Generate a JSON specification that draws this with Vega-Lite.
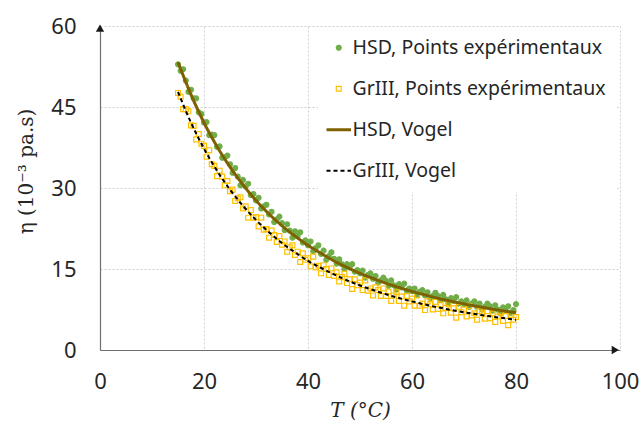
{
  "$schema": "https://vega.github.io/schema/vega-lite/v6.json",
  "width": 520,
  "height": 324,
  "autosize": {"type": "none"},
  "padding": {"left": 100, "top": 26, "right": 22, "bottom": 71},
  "background": "white",
  "config": {
    "view": {"stroke": null},
    "font": "Noto Sans",
    "axis": {
      "grid": true, "gridDash": [2, 2], "gridColor": "#cfcfcf", "gridWidth": 1,
      "domainColor": "#6f6f6f", "domainWidth": 1.2,
      "ticks": false, "tickSize": 0, "labelFlush": false,
      "labelFont": "Noto Sans", "labelFontSize": 22, "labelColor": "#262626",
      "titleFont": "DejaVu Serif", "titleFontSize": 20, "titleFontWeight": "normal", "titleColor": "#262626"
    },
    "legend": {
      "orient": "none", "legendX": 218, "legendY": 1,
      "fillColor": "white", "padding": 11, "rowPadding": 20,
      "labelFont": "Noto Sans", "labelFontSize": 19.5, "labelColor": "#262626",
      "labelOffset": 4, "symbolSize": 24, "labelLimit": 400
    }
  },
  "datasets": {
    "pts": [
      {"s":"HSD, Points expérimentaux","T":15.0,"v":52.9},{"s":"HSD, Points expérimentaux","T":15.5,"v":51.7},{"s":"HSD, Points expérimentaux","T":16.0,"v":52.0},{"s":"HSD, Points expérimentaux","T":16.5,"v":49.9},{"s":"HSD, Points expérimentaux","T":17.0,"v":47.8},{"s":"HSD, Points expérimentaux","T":17.5,"v":48.2},{"s":"HSD, Points expérimentaux","T":18.0,"v":46.6},{"s":"HSD, Points expérimentaux","T":18.5,"v":46.6},{"s":"HSD, Points expérimentaux","T":19.0,"v":44.0},{"s":"HSD, Points expérimentaux","T":19.5,"v":43.7},
      {"s":"HSD, Points expérimentaux","T":20.0,"v":42.1},{"s":"HSD, Points expérimentaux","T":20.5,"v":42.2},{"s":"HSD, Points expérimentaux","T":21.0,"v":39.8},{"s":"HSD, Points expérimentaux","T":21.5,"v":39.9},{"s":"HSD, Points expérimentaux","T":22.0,"v":39.8},{"s":"HSD, Points expérimentaux","T":22.5,"v":37.6},{"s":"HSD, Points expérimentaux","T":23.0,"v":37.7},{"s":"HSD, Points expérimentaux","T":23.5,"v":35.6},{"s":"HSD, Points expérimentaux","T":24.0,"v":35.7},{"s":"HSD, Points expérimentaux","T":24.5,"v":36.0},
      {"s":"HSD, Points expérimentaux","T":25.0,"v":34.4},{"s":"HSD, Points expérimentaux","T":25.5,"v":32.8},{"s":"HSD, Points expérimentaux","T":26.0,"v":33.7},{"s":"HSD, Points expérimentaux","T":26.5,"v":32.1},{"s":"HSD, Points expérimentaux","T":27.0,"v":30.5},{"s":"HSD, Points expérimentaux","T":27.5,"v":31.5},{"s":"HSD, Points expérimentaux","T":28.0,"v":30.3},{"s":"HSD, Points expérimentaux","T":28.5,"v":30.8},{"s":"HSD, Points expérimentaux","T":29.0,"v":28.7},{"s":"HSD, Points expérimentaux","T":29.5,"v":28.9},
      {"s":"HSD, Points expérimentaux","T":30.0,"v":27.7},{"s":"HSD, Points expérimentaux","T":30.5,"v":28.2},{"s":"HSD, Points expérimentaux","T":31.0,"v":26.2},{"s":"HSD, Points expérimentaux","T":31.5,"v":26.6},{"s":"HSD, Points expérimentaux","T":32.0,"v":26.9},{"s":"HSD, Points expérimentaux","T":32.5,"v":25.1},{"s":"HSD, Points expérimentaux","T":33.0,"v":25.6},{"s":"HSD, Points expérimentaux","T":33.5,"v":23.7},{"s":"HSD, Points expérimentaux","T":34.0,"v":24.2},{"s":"HSD, Points expérimentaux","T":34.5,"v":24.7},
      {"s":"HSD, Points expérimentaux","T":35.0,"v":23.5},{"s":"HSD, Points expérimentaux","T":35.5,"v":22.2},{"s":"HSD, Points expérimentaux","T":36.0,"v":23.3},{"s":"HSD, Points expérimentaux","T":36.5,"v":22.1},{"s":"HSD, Points expérimentaux","T":37.0,"v":20.8},{"s":"HSD, Points expérimentaux","T":37.5,"v":22.0},{"s":"HSD, Points expérimentaux","T":38.0,"v":21.1},{"s":"HSD, Points expérimentaux","T":38.5,"v":21.8},{"s":"HSD, Points expérimentaux","T":39.0,"v":19.9},{"s":"HSD, Points expérimentaux","T":39.5,"v":20.3},
      {"s":"HSD, Points expérimentaux","T":40.0,"v":19.4},{"s":"HSD, Points expérimentaux","T":40.5,"v":20.1},{"s":"HSD, Points expérimentaux","T":41.0,"v":18.3},{"s":"HSD, Points expérimentaux","T":41.5,"v":18.9},{"s":"HSD, Points expérimentaux","T":42.0,"v":19.4},{"s":"HSD, Points expérimentaux","T":42.5,"v":17.8},{"s":"HSD, Points expérimentaux","T":43.0,"v":18.4},{"s":"HSD, Points expérimentaux","T":43.5,"v":16.7},{"s":"HSD, Points expérimentaux","T":44.0,"v":17.4},{"s":"HSD, Points expérimentaux","T":44.5,"v":18.1},
      {"s":"HSD, Points expérimentaux","T":45.0,"v":16.9},{"s":"HSD, Points expérimentaux","T":45.5,"v":16.0},{"s":"HSD, Points expérimentaux","T":46.0,"v":16.8},{"s":"HSD, Points expérimentaux","T":46.5,"v":15.9},{"s":"HSD, Points expérimentaux","T":47.0,"v":15.0},{"s":"HSD, Points expérimentaux","T":47.5,"v":15.9},{"s":"HSD, Points expérimentaux","T":48.0,"v":15.3},{"s":"HSD, Points expérimentaux","T":48.5,"v":15.9},{"s":"HSD, Points expérimentaux","T":49.0,"v":14.5},{"s":"HSD, Points expérimentaux","T":49.5,"v":14.8},
      {"s":"HSD, Points expérimentaux","T":50.0,"v":14.2},{"s":"HSD, Points expérimentaux","T":50.5,"v":14.7},{"s":"HSD, Points expérimentaux","T":51.0,"v":13.4},{"s":"HSD, Points expérimentaux","T":51.5,"v":13.9},{"s":"HSD, Points expérimentaux","T":52.0,"v":14.2},{"s":"HSD, Points expérimentaux","T":52.5,"v":13.2},{"s":"HSD, Points expérimentaux","T":53.0,"v":13.7},{"s":"HSD, Points expérimentaux","T":53.5,"v":12.5},{"s":"HSD, Points expérimentaux","T":54.0,"v":12.9},{"s":"HSD, Points expérimentaux","T":54.5,"v":13.4},
      {"s":"HSD, Points expérimentaux","T":55.0,"v":12.8},{"s":"HSD, Points expérimentaux","T":55.5,"v":11.9},{"s":"HSD, Points expérimentaux","T":56.0,"v":12.9},{"s":"HSD, Points expérimentaux","T":56.5,"v":12.0},{"s":"HSD, Points expérimentaux","T":57.0,"v":11.2},{"s":"HSD, Points expérimentaux","T":57.5,"v":12.2},{"s":"HSD, Points expérimentaux","T":58.0,"v":11.6},{"s":"HSD, Points expérimentaux","T":58.5,"v":12.3},{"s":"HSD, Points expérimentaux","T":59.0,"v":11.0},{"s":"HSD, Points expérimentaux","T":59.5,"v":11.4},
      {"s":"HSD, Points expérimentaux","T":60.0,"v":10.9},{"s":"HSD, Points expérimentaux","T":60.5,"v":11.4},{"s":"HSD, Points expérimentaux","T":61.0,"v":10.2},{"s":"HSD, Points expérimentaux","T":61.5,"v":10.8},{"s":"HSD, Points expérimentaux","T":62.0,"v":11.1},{"s":"HSD, Points expérimentaux","T":62.5,"v":10.1},{"s":"HSD, Points expérimentaux","T":63.0,"v":10.7},{"s":"HSD, Points expérimentaux","T":63.5,"v":9.6},{"s":"HSD, Points expérimentaux","T":64.0,"v":10.0},{"s":"HSD, Points expérimentaux","T":64.5,"v":10.6},
      {"s":"HSD, Points expérimentaux","T":65.0,"v":10.0},{"s":"HSD, Points expérimentaux","T":65.5,"v":9.2},{"s":"HSD, Points expérimentaux","T":66.0,"v":10.2},{"s":"HSD, Points expérimentaux","T":66.5,"v":9.4},{"s":"HSD, Points expérimentaux","T":67.0,"v":8.7},{"s":"HSD, Points expérimentaux","T":67.5,"v":9.6},{"s":"HSD, Points expérimentaux","T":68.0,"v":9.1},{"s":"HSD, Points expérimentaux","T":68.5,"v":9.8},{"s":"HSD, Points expérimentaux","T":69.0,"v":8.6},{"s":"HSD, Points expérimentaux","T":69.5,"v":9.0},
      {"s":"HSD, Points expérimentaux","T":70.0,"v":8.5},{"s":"HSD, Points expérimentaux","T":70.5,"v":9.2},{"s":"HSD, Points expérimentaux","T":71.0,"v":8.0},{"s":"HSD, Points expérimentaux","T":71.5,"v":8.6},{"s":"HSD, Points expérimentaux","T":72.0,"v":9.0},{"s":"HSD, Points expérimentaux","T":72.5,"v":8.0},{"s":"HSD, Points expérimentaux","T":73.0,"v":8.6},{"s":"HSD, Points expérimentaux","T":73.5,"v":7.5},{"s":"HSD, Points expérimentaux","T":74.0,"v":8.0},{"s":"HSD, Points expérimentaux","T":74.5,"v":8.6},
      {"s":"HSD, Points expérimentaux","T":75.0,"v":8.1},{"s":"HSD, Points expérimentaux","T":75.5,"v":7.3},{"s":"HSD, Points expérimentaux","T":76.0,"v":8.3},{"s":"HSD, Points expérimentaux","T":76.5,"v":7.5},{"s":"HSD, Points expérimentaux","T":77.0,"v":6.8},{"s":"HSD, Points expérimentaux","T":77.5,"v":7.9},{"s":"HSD, Points expérimentaux","T":78.0,"v":7.4},{"s":"HSD, Points expérimentaux","T":78.5,"v":8.1},{"s":"HSD, Points expérimentaux","T":79.0,"v":6.9},{"s":"HSD, Points expérimentaux","T":79.5,"v":7.4},
      {"s":"HSD, Points expérimentaux","T":80.0,"v":8.5},
      {"s":"GrIII, Points expérimentaux","T":15.0,"v":47.6},{"s":"GrIII, Points expérimentaux","T":15.5,"v":46.9},{"s":"GrIII, Points expérimentaux","T":16.0,"v":44.6},{"s":"GrIII, Points expérimentaux","T":16.5,"v":44.6},{"s":"GrIII, Points expérimentaux","T":17.0,"v":44.2},{"s":"GrIII, Points expérimentaux","T":17.5,"v":41.6},{"s":"GrIII, Points expérimentaux","T":18.0,"v":41.5},{"s":"GrIII, Points expérimentaux","T":18.5,"v":39.0},{"s":"GrIII, Points expérimentaux","T":19.0,"v":40.0},{"s":"GrIII, Points expérimentaux","T":19.5,"v":38.2},
      {"s":"GrIII, Points expérimentaux","T":20.0,"v":37.8},{"s":"GrIII, Points expérimentaux","T":20.5,"v":35.8},{"s":"GrIII, Points expérimentaux","T":21.0,"v":37.0},{"s":"GrIII, Points expérimentaux","T":21.5,"v":34.4},{"s":"GrIII, Points expérimentaux","T":22.0,"v":34.1},{"s":"GrIII, Points expérimentaux","T":22.5,"v":32.2},{"s":"GrIII, Points expérimentaux","T":23.0,"v":33.2},{"s":"GrIII, Points expérimentaux","T":23.5,"v":32.1},{"s":"GrIII, Points expérimentaux","T":24.0,"v":30.5},{"s":"GrIII, Points expérimentaux","T":24.5,"v":31.3},
      {"s":"GrIII, Points expérimentaux","T":25.0,"v":29.4},{"s":"GrIII, Points expérimentaux","T":25.5,"v":29.7},{"s":"GrIII, Points expérimentaux","T":26.0,"v":27.6},{"s":"GrIII, Points expérimentaux","T":26.5,"v":28.1},{"s":"GrIII, Points expérimentaux","T":27.0,"v":28.3},{"s":"GrIII, Points expérimentaux","T":27.5,"v":26.2},{"s":"GrIII, Points expérimentaux","T":28.0,"v":26.6},{"s":"GrIII, Points expérimentaux","T":28.5,"v":24.5},{"s":"GrIII, Points expérimentaux","T":29.0,"v":25.9},{"s":"GrIII, Points expérimentaux","T":29.5,"v":24.5},
      {"s":"GrIII, Points expérimentaux","T":30.0,"v":24.6},{"s":"GrIII, Points expérimentaux","T":30.5,"v":22.9},{"s":"GrIII, Points expérimentaux","T":31.0,"v":24.5},{"s":"GrIII, Points expérimentaux","T":31.5,"v":22.3},{"s":"GrIII, Points expérimentaux","T":32.0,"v":22.4},{"s":"GrIII, Points expérimentaux","T":32.5,"v":20.8},{"s":"GrIII, Points expérimentaux","T":33.0,"v":22.1},{"s":"GrIII, Points expérimentaux","T":33.5,"v":21.3},{"s":"GrIII, Points expérimentaux","T":34.0,"v":20.0},{"s":"GrIII, Points expérimentaux","T":34.5,"v":21.1},
      {"s":"GrIII, Points expérimentaux","T":35.0,"v":19.5},{"s":"GrIII, Points expérimentaux","T":35.5,"v":20.1},{"s":"GrIII, Points expérimentaux","T":36.0,"v":18.2},{"s":"GrIII, Points expérimentaux","T":36.5,"v":19.0},{"s":"GrIII, Points expérimentaux","T":37.0,"v":19.4},{"s":"GrIII, Points expérimentaux","T":37.5,"v":17.6},{"s":"GrIII, Points expérimentaux","T":38.0,"v":18.2},{"s":"GrIII, Points expérimentaux","T":38.5,"v":16.3},{"s":"GrIII, Points expérimentaux","T":39.0,"v":17.9},{"s":"GrIII, Points expérimentaux","T":39.5,"v":16.7},
      {"s":"GrIII, Points expérimentaux","T":40.0,"v":17.0},{"s":"GrIII, Points expérimentaux","T":40.5,"v":15.5},{"s":"GrIII, Points expérimentaux","T":41.0,"v":17.3},{"s":"GrIII, Points expérimentaux","T":41.5,"v":15.3},{"s":"GrIII, Points expérimentaux","T":42.0,"v":15.6},{"s":"GrIII, Points expérimentaux","T":42.5,"v":14.2},{"s":"GrIII, Points expérimentaux","T":43.0,"v":15.7},{"s":"GrIII, Points expérimentaux","T":43.5,"v":15.0},{"s":"GrIII, Points expérimentaux","T":44.0,"v":13.9},{"s":"GrIII, Points expérimentaux","T":44.5,"v":15.1},
      {"s":"GrIII, Points expérimentaux","T":45.0,"v":13.7},{"s":"GrIII, Points expérimentaux","T":45.5,"v":14.4},{"s":"GrIII, Points expérimentaux","T":46.0,"v":12.7},{"s":"GrIII, Points expérimentaux","T":46.5,"v":13.5},{"s":"GrIII, Points expérimentaux","T":47.0,"v":14.1},{"s":"GrIII, Points expérimentaux","T":47.5,"v":12.4},{"s":"GrIII, Points expérimentaux","T":48.0,"v":13.1},{"s":"GrIII, Points expérimentaux","T":48.5,"v":11.3},{"s":"GrIII, Points expérimentaux","T":49.0,"v":13.1},{"s":"GrIII, Points expérimentaux","T":49.5,"v":12.0},
      {"s":"GrIII, Points expérimentaux","T":50.0,"v":12.5},{"s":"GrIII, Points expérimentaux","T":50.5,"v":11.1},{"s":"GrIII, Points expérimentaux","T":51.0,"v":12.9},{"s":"GrIII, Points expérimentaux","T":51.5,"v":11.0},{"s":"GrIII, Points expérimentaux","T":52.0,"v":11.4},{"s":"GrIII, Points expérimentaux","T":52.5,"v":10.1},{"s":"GrIII, Points expérimentaux","T":53.0,"v":11.6},{"s":"GrIII, Points expérimentaux","T":53.5,"v":11.1},{"s":"GrIII, Points expérimentaux","T":54.0,"v":10.0},{"s":"GrIII, Points expérimentaux","T":54.5,"v":11.4},
      {"s":"GrIII, Points expérimentaux","T":55.0,"v":10.0},{"s":"GrIII, Points expérimentaux","T":55.5,"v":10.8},{"s":"GrIII, Points expérimentaux","T":56.0,"v":9.1},{"s":"GrIII, Points expérimentaux","T":56.5,"v":10.1},{"s":"GrIII, Points expérimentaux","T":57.0,"v":10.7},{"s":"GrIII, Points expérimentaux","T":57.5,"v":9.1},{"s":"GrIII, Points expérimentaux","T":58.0,"v":9.9},{"s":"GrIII, Points expérimentaux","T":58.5,"v":8.2},{"s":"GrIII, Points expérimentaux","T":59.0,"v":10.0},{"s":"GrIII, Points expérimentaux","T":59.5,"v":9.0},
      {"s":"GrIII, Points expérimentaux","T":60.0,"v":9.5},{"s":"GrIII, Points expérimentaux","T":60.5,"v":8.2},{"s":"GrIII, Points expérimentaux","T":61.0,"v":10.1},{"s":"GrIII, Points expérimentaux","T":61.5,"v":8.2},{"s":"GrIII, Points expérimentaux","T":62.0,"v":8.6},{"s":"GrIII, Points expérimentaux","T":62.5,"v":7.4},{"s":"GrIII, Points expérimentaux","T":63.0,"v":9.0},{"s":"GrIII, Points expérimentaux","T":63.5,"v":8.5},{"s":"GrIII, Points expérimentaux","T":64.0,"v":7.5},{"s":"GrIII, Points expérimentaux","T":64.5,"v":8.9},
      {"s":"GrIII, Points expérimentaux","T":65.0,"v":7.6},{"s":"GrIII, Points expérimentaux","T":65.5,"v":8.4},{"s":"GrIII, Points expérimentaux","T":66.0,"v":6.8},{"s":"GrIII, Points expérimentaux","T":66.5,"v":7.8},{"s":"GrIII, Points expérimentaux","T":67.0,"v":8.5},{"s":"GrIII, Points expérimentaux","T":67.5,"v":6.9},{"s":"GrIII, Points expérimentaux","T":68.0,"v":7.7},{"s":"GrIII, Points expérimentaux","T":68.5,"v":6.0},{"s":"GrIII, Points expérimentaux","T":69.0,"v":8.0},{"s":"GrIII, Points expérimentaux","T":69.5,"v":7.0},
      {"s":"GrIII, Points expérimentaux","T":70.0,"v":7.5},{"s":"GrIII, Points expérimentaux","T":70.5,"v":6.2},{"s":"GrIII, Points expérimentaux","T":71.0,"v":8.1},{"s":"GrIII, Points expérimentaux","T":71.5,"v":6.4},{"s":"GrIII, Points expérimentaux","T":72.0,"v":6.8},{"s":"GrIII, Points expérimentaux","T":72.5,"v":5.6},{"s":"GrIII, Points expérimentaux","T":73.0,"v":7.2},{"s":"GrIII, Points expérimentaux","T":73.5,"v":6.8},{"s":"GrIII, Points expérimentaux","T":74.0,"v":5.8},{"s":"GrIII, Points expérimentaux","T":74.5,"v":7.2},
      {"s":"GrIII, Points expérimentaux","T":75.0,"v":5.9},{"s":"GrIII, Points expérimentaux","T":75.5,"v":6.8},{"s":"GrIII, Points expérimentaux","T":76.0,"v":5.2},{"s":"GrIII, Points expérimentaux","T":76.5,"v":6.2},{"s":"GrIII, Points expérimentaux","T":77.0,"v":7.0},{"s":"GrIII, Points expérimentaux","T":77.5,"v":5.4},{"s":"GrIII, Points expérimentaux","T":78.0,"v":6.3},{"s":"GrIII, Points expérimentaux","T":78.5,"v":4.6},{"s":"GrIII, Points expérimentaux","T":79.0,"v":6.5},{"s":"GrIII, Points expérimentaux","T":79.5,"v":5.6},
      {"s":"GrIII, Points expérimentaux","T":80.0,"v":6.1}
    ],
    "fit": [
      {"s":"HSD, Vogel","T":15,"v":53.3},{"s":"HSD, Vogel","T":17.5,"v":47.3},{"s":"HSD, Vogel","T":20,"v":42.1},{"s":"HSD, Vogel","T":22.5,"v":37.7},{"s":"HSD, Vogel","T":25,"v":33.9},{"s":"HSD, Vogel","T":27.5,"v":30.6},{"s":"HSD, Vogel","T":30,"v":27.7},{"s":"HSD, Vogel","T":32.5,"v":25.2},{"s":"HSD, Vogel","T":35,"v":23.0},{"s":"HSD, Vogel","T":37.5,"v":21.1},{"s":"HSD, Vogel","T":40,"v":19.4},{"s":"HSD, Vogel","T":42.5,"v":17.9},{"s":"HSD, Vogel","T":45,"v":16.5},{"s":"HSD, Vogel","T":47.5,"v":15.3},{"s":"HSD, Vogel","T":50,"v":14.2},{"s":"HSD, Vogel","T":52.5,"v":13.25},{"s":"HSD, Vogel","T":55,"v":12.37},{"s":"HSD, Vogel","T":57.5,"v":11.58},{"s":"HSD, Vogel","T":60,"v":10.85},{"s":"HSD, Vogel","T":62.5,"v":10.2},{"s":"HSD, Vogel","T":65,"v":9.59},{"s":"HSD, Vogel","T":67.5,"v":9.04},{"s":"HSD, Vogel","T":70,"v":8.54},{"s":"HSD, Vogel","T":72.5,"v":8.08},{"s":"HSD, Vogel","T":75,"v":7.65},{"s":"HSD, Vogel","T":77.5,"v":7.26},{"s":"HSD, Vogel","T":80,"v":6.9},
      {"s":"GrIII, Vogel","T":15,"v":47.8},{"s":"GrIII, Vogel","T":17.5,"v":42.1},{"s":"GrIII, Vogel","T":20,"v":37.3},{"s":"GrIII, Vogel","T":22.5,"v":33.2},{"s":"GrIII, Vogel","T":25,"v":29.7},{"s":"GrIII, Vogel","T":27.5,"v":26.7},{"s":"GrIII, Vogel","T":30,"v":24.1},{"s":"GrIII, Vogel","T":32.5,"v":21.8},{"s":"GrIII, Vogel","T":35,"v":19.8},{"s":"GrIII, Vogel","T":37.5,"v":18.1},{"s":"GrIII, Vogel","T":40,"v":16.5},{"s":"GrIII, Vogel","T":42.5,"v":15.2},{"s":"GrIII, Vogel","T":45,"v":14.0},{"s":"GrIII, Vogel","T":47.5,"v":12.9},{"s":"GrIII, Vogel","T":50,"v":11.95},{"s":"GrIII, Vogel","T":52.5,"v":11.1},{"s":"GrIII, Vogel","T":55,"v":10.32},{"s":"GrIII, Vogel","T":57.5,"v":9.62},{"s":"GrIII, Vogel","T":60,"v":9.0},{"s":"GrIII, Vogel","T":62.5,"v":8.42},{"s":"GrIII, Vogel","T":65,"v":7.9},{"s":"GrIII, Vogel","T":67.5,"v":7.43},{"s":"GrIII, Vogel","T":70,"v":6.99},{"s":"GrIII, Vogel","T":72.5,"v":6.6},{"s":"GrIII, Vogel","T":75,"v":6.24},{"s":"GrIII, Vogel","T":77.5,"v":5.91},{"s":"GrIII, Vogel","T":80,"v":5.6}
    ],
    "arrows": [
      {"d":"up","T":0,"v":59.6},{"d":"right","T":99.1,"v":0}
    ]
  },
  "encoding": {
    "x": {"field": "T", "type": "quantitative", "scale": {"domain": [0, 100], "nice": false},
      "axis": {"values": [0, 20, 40, 60, 80, 100], "labelPadding": 21, "title": "T (°C)", "titleFontStyle": "italic", "titleX": 260, "titleY": 60, "titleBaseline": "middle"}},
    "y": {"field": "v", "type": "quantitative", "scale": {"domain": [0, 60], "nice": false},
      "axis": {"values": [0, 15, 30, 45, 60], "labelPadding": 24, "title": "η (10⁻³ pa.s)", "titleX": -74, "titleY": 145, "titleAngle": -90, "titleAlign": "center", "titleBaseline": "middle"}}
  },
  "layer": [
    {
      "data": {"name": "pts"},
      "mark": {"type": "point", "filled": true, "size": 24, "strokeWidth": 1.2, "opacity": 1},
      "encoding": {
        "fill": {"field": "s", "type": "nominal", "scale": {"domain": ["HSD, Points expérimentaux", "GrIII, Points expérimentaux", "HSD, Vogel", "GrIII, Vogel"], "range": ["#70ad47", "transparent", "transparent", "transparent"]}, "legend": {"title": null}},
        "stroke": {"field": "s", "type": "nominal", "scale": {"domain": ["HSD, Points expérimentaux", "GrIII, Points expérimentaux", "HSD, Vogel", "GrIII, Vogel"], "range": ["#70ad47", "#ffc000", "#7f6000", "#000000"]}, "legend": {"title": null}},
        "shape": {"field": "s", "type": "nominal", "scale": {"domain": ["HSD, Points expérimentaux", "GrIII, Points expérimentaux", "HSD, Vogel", "GrIII, Vogel"], "range": ["circle", "square", "M-5,0H5", "M-5,0H5"]}, "legend": {"title": null}}
      }
    },
    {
      "data": {"name": "fit"},
      "mark": {"type": "line", "interpolate": "monotone"},
      "encoding": {
        "stroke": {"field": "s", "type": "nominal", "legend": {"title": null}},
        "strokeDash": {"field": "s", "type": "nominal", "scale": {"domain": ["HSD, Points expérimentaux", "GrIII, Points expérimentaux", "HSD, Vogel", "GrIII, Vogel"], "range": [[1, 0], [1, 0], [1, 0], [4, 3]]}, "legend": {"title": null}},
        "strokeWidth": {"field": "s", "type": "nominal", "scale": {"type": "ordinal", "domain": ["HSD, Points expérimentaux", "GrIII, Points expérimentaux", "HSD, Vogel", "GrIII, Vogel"], "range": [1.2, 1.2, 3, 2]}, "legend": {"title": null}}
      }
    },
    {
      "data": {"name": "arrows"},
      "transform": [{"filter": "datum.d === 'up'"}],
      "mark": {"type": "point", "filled": true, "opacity": 1},
      "encoding": {
        "shape": {"value": "triangle-up"},
        "color": {"value": "#1a1a1a"},
        "size": {"value": 70}
      }
    },
    {
      "data": {"name": "arrows"},
      "transform": [{"filter": "datum.d === 'right'"}],
      "mark": {"type": "point", "filled": true, "opacity": 1},
      "encoding": {
        "shape": {"value": "triangle-right"},
        "color": {"value": "#1a1a1a"},
        "size": {"value": 70}
      }
    }
  ]
}
